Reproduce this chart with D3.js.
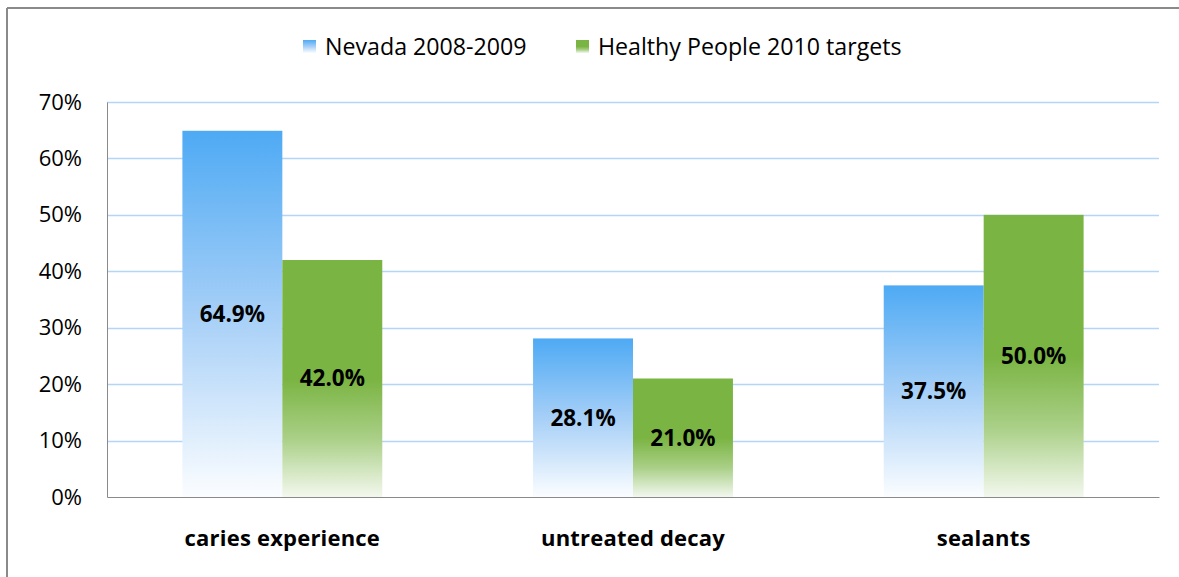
<!DOCTYPE html>
<html>
<head>
<meta charset="utf-8">
<script src="https://cdn.jsdelivr.net/npm/d3@7"></script>
<style>
  body { margin: 0; background: #fff; }
  svg { display: block; font-family: "Open Sans", sans-serif; }
</style>
</head>
<body>
<svg id="chart" width="1179" height="577"></svg>
<script>
// chart data
var categories = ["caries experience", "untreated decay", "sealants"];
var seriesNames = ["Nevada 2008-2009", "Healthy People 2010 targets"];
var nevada = [64.9, 28.1, 37.5];
var healthy = [42.0, 21.0, 50.0];
var yTicks = [0, 10, 20, 30, 40, 50, 60, 70];

var plotLeft = 107, plotRight = 1159, plotTop = 102, plotBottom = 497;

var svg = d3.select("#chart");

// gradients like the excel fills
var defs = svg.append("defs");
var gBlue = defs.append("linearGradient").attr("id", "gBlue")
    .attr("x1", 0).attr("y1", 0).attr("x2", 0).attr("y2", 1);
gBlue.append("stop").attr("offset", "0").attr("stop-color", "#4eaaf4");
gBlue.append("stop").attr("offset", "0.5").attr("stop-color", "#a6cff7");
gBlue.append("stop").attr("offset", "1").attr("stop-color", "#fbfdff");

var gGreen = defs.append("linearGradient").attr("id", "gGreen")
    .attr("x1", 0).attr("y1", 0).attr("x2", 0).attr("y2", 1);
gGreen.append("stop").attr("offset", "0").attr("stop-color", "#7ab442");
gGreen.append("stop").attr("offset", "0.5").attr("stop-color", "#7ab442");
gGreen.append("stop").attr("offset", "0.75").attr("stop-color", "#a9cf86");
gGreen.append("stop").attr("offset", "1").attr("stop-color", "#f3f8ee");

var fills = ["url(#gBlue)", "url(#gGreen)"];

// outer frame (only top and left visible)
svg.append("line").attr("x1", 7).attr("x2", 7).attr("y1", 8).attr("y2", 577)
    .attr("stroke", "#8a8a8a").attr("stroke-width", 2);
svg.append("line").attr("x1", 7).attr("x2", 1179).attr("y1", 8).attr("y2", 8)
    .attr("stroke", "#8a8a8a").attr("stroke-width", 2);

// scales
var x0 = d3.scaleBand().domain(categories).range([plotLeft, plotRight])
    .paddingInner(0.43).paddingOuter(0.215);
var x1 = d3.scaleBand().domain([0, 1]).range([0, x0.bandwidth()]);
var y = d3.scaleLinear().domain([0, 70]).range([plotBottom, plotTop]);

// gridlines
svg.append("g").selectAll("line").data(yTicks.slice(1)).enter()
    .append("line")
    .attr("x1", plotLeft).attr("x2", plotRight)
    .attr("y1", function(d){ return Math.round(y(d)) + 0.5; })
    .attr("y2", function(d){ return Math.round(y(d)) + 0.5; })
    .attr("stroke", "#b5d5f6").attr("stroke-width", 1.5);

// y axis labels
var yAxis = svg.append("g").attr("transform", "translate(" + plotLeft + ",0)")
    .call(d3.axisLeft(y).tickValues(yTicks).tickSize(0).tickPadding(25)
        .tickFormat(function(d){ return d + "%"; }));
yAxis.select(".domain").attr("stroke", "#8a8a8a");
yAxis.selectAll("text").attr("font-size", 22).attr("fill", "#000")
    .attr("font-family", "Open Sans");

// bars
var rows = categories.map(function(c, i){ return { cat: c, vals: [nevada[i], healthy[i]] }; });
var groups = svg.append("g").selectAll("g").data(rows).enter()
    .append("g").attr("transform", function(d){ return "translate(" + x0(d.cat) + ",0)"; });

groups.selectAll("rect")
    .data(function(d){ return d.vals.map(function(v, k){ return { k: k, v: v }; }); })
    .enter().append("rect")
    .attr("x", function(d){ return x1(d.k); })
    .attr("width", x1.bandwidth())
    .attr("y", function(d){ return y(d.v); })
    .attr("height", function(d){ return plotBottom - y(d.v); })
    .attr("fill", function(d){ return fills[d.k]; });

groups.selectAll("text.val")
    .data(function(d){ return d.vals.map(function(v, k){ return { k: k, v: v }; }); })
    .enter().append("text").attr("class", "val")
    .attr("x", function(d){ return x1(d.k) + x1.bandwidth() / 2; })
    .attr("y", function(d){ return (y(d.v) + plotBottom) / 2; })
    .attr("dy", "0.35em")
    .attr("text-anchor", "middle")
    .attr("font-size", 22.5).attr("font-weight", "bold").attr("fill", "#000")
    .text(function(d){ return d.v.toFixed(1) + "%"; });

// bottom axis
var xAxis = svg.append("g").attr("transform", "translate(0," + plotBottom + ")")
    .call(d3.axisBottom(x0).tickSize(0).tickPadding(33));
xAxis.select(".domain").attr("stroke", "#8a8a8a");
xAxis.selectAll("text").attr("font-size", 22).attr("font-weight", "bold")
    .attr("fill", "#000").attr("font-family", "Open Sans")
    .attr("letter-spacing", "0.2");

// legend
var legendX = [303, 576];
var legend = svg.append("g").selectAll("g").data(seriesNames).enter()
    .append("g").attr("transform", function(d, i){ return "translate(" + legendX[i] + ",40)"; });
legend.append("rect").attr("width", 13).attr("height", 13)
    .attr("fill", function(d, i){ return fills[i]; });
legend.append("text").attr("x", 22).attr("y", 7).attr("dy", "0.35em")
    .attr("font-size", 23.2).attr("fill", "#000")
    .text(function(d){ return d; });
</script>
</body>
</html>
